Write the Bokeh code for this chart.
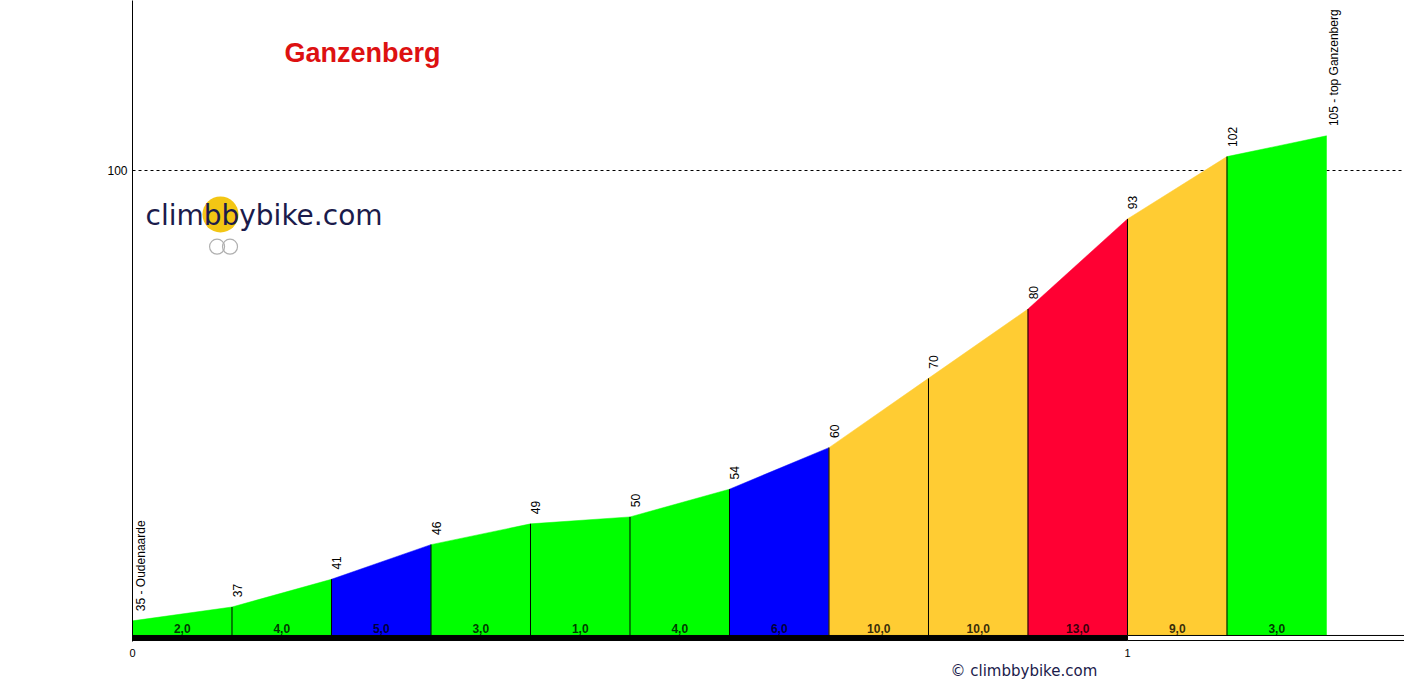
import math
from bokeh.plotting import figure
from bokeh.models import Range1d, FixedTicker, Label, Title
from bokeh.core.properties import value
from bokeh.embed import file_html
from bokeh.resources import INLINE

# ---- data ----
KM = [0.0, 0.1, 0.2, 0.3, 0.4, 0.5, 0.6, 0.7, 0.8, 0.9, 1.0, 1.1, 1.2]
ELEV = [35, 37, 41, 46, 49, 50, 54, 60, 70, 80, 93, 102, 105]
GRADIENT_LABELS = ["2,0", "4,0", "5,0", "3,0", "1,0", "4,0", "6,0",
                   "10,0", "10,0", "13,0", "9,0", "3,0"]
SEG_COLORS = ["#00FF00", "#00FF00", "#0000FF", "#00FF00", "#00FF00", "#00FF00",
              "#0000FF", "#FFCC33", "#FFCC33", "#FF0033", "#FFCC33", "#00FF00"]
START_NAME = "Oudenaarde"
END_NAME = "top Ganzenberg"
TITLE = "Ganzenberg"
X_TICKS = [0, 1]
Y_TICKS = [100]
KM_BAR_LEFT = [0, 1]
KM_BAR_RIGHT = [1, 2]
KM_BAR_COLORS = ["black", "white"]

BASE = 32.9
FONT = "Liberation Sans"

p = figure(width=1404, height=679, output_backend="svg", toolbar_location=None,
           x_range=Range1d(0, 1.2784), y_range=Range1d(32.02, 124.53),
           min_border_left=132, min_border_right=0, min_border_top=0,
           min_border_bottom=38)
p.outline_line_color = None
p.background_fill_color = "white"
p.border_fill_color = "white"

# grid: only dashed line at 100
p.xgrid.visible = False
p.ygrid.ticker = FixedTicker(ticks=Y_TICKS)
p.ygrid.grid_line_color = "black"
p.ygrid.grid_line_dash = "3 3"
p.ygrid.grid_line_width = 1

# axes
p.yaxis.ticker = FixedTicker(ticks=Y_TICKS)
p.yaxis.axis_line_color = "black"
p.yaxis.major_tick_line_color = None
p.yaxis.minor_tick_line_color = None
p.yaxis.major_tick_out = 0
p.yaxis.major_label_standoff = 5
p.yaxis.major_label_text_font = FONT
p.yaxis.major_label_text_font_size = "12px"
p.yaxis.major_label_text_color = "black"

p.xaxis.ticker = FixedTicker(ticks=X_TICKS)
p.xaxis.axis_line_color = None
p.xaxis.major_tick_line_color = None
p.xaxis.minor_tick_line_color = None
p.xaxis.major_tick_out = 0
p.xaxis.major_label_standoff = 7
p.xaxis.major_label_text_font = FONT
p.xaxis.major_label_text_font_size = "11px"
p.xaxis.major_label_text_color = "black"

# segment fills
xs, ys = [], []
for i in range(len(KM) - 1):
    xs.append([KM[i], KM[i], KM[i + 1], KM[i + 1]])
    ys.append([BASE, ELEV[i], ELEV[i + 1], BASE])
p.patches(xs, ys, fill_color=SEG_COLORS, line_color=SEG_COLORS, line_width=0.5)

# dividers
p.segment(x0=KM[1:-1], y0=[BASE] * (len(KM) - 2), x1=KM[1:-1], y1=ELEV[1:-1],
          line_color="black", line_width=1)

# km bar
p.quad(left=KM_BAR_LEFT, right=KM_BAR_RIGHT, bottom=32.16, top=32.89,
       fill_color=KM_BAR_COLORS, line_color="black", line_width=1)

# gradient labels
mid = [(KM[i] + KM[i + 1]) / 2 for i in range(len(KM) - 1)]
p.text(x=mid, y=[33.9] * len(mid), text=GRADIENT_LABELS,
       text_font=value(FONT), text_font_size="12px", text_font_style="bold",
       text_color="black", text_alpha=0.8,
       text_align="center", text_baseline="middle")

# elevation labels
elev_text = [str(e) for e in ELEV]
elev_text[0] = f"{ELEV[0]} - {START_NAME}"
elev_text[-1] = f"{ELEV[-1]} - {END_NAME}"
p.text(x=KM, y=[e + 1.4 for e in ELEV], text=elev_text, angle=math.pi / 2,
       text_font=value(FONT), text_font_size="12px", text_color="black",
       text_align="left", text_baseline="top", x_offset=1)

# logo (top-left)
p.scatter(x=[0.0884], y=[93.65], size=36, marker="circle",
          fill_color="#F3C614", line_color=None)
p.scatter(x=[0.085, 0.098], y=[89.0, 89.0], size=15, marker="circle",
          fill_color=None, line_color="#B0B0B0", line_width=1.2)
p.add_layout(Label(x=0.01307, y=93.5, text="climbbybike.com",
                   text_font="DejaVu Sans", text_font_size="28px",
                   text_color="#1B1B4B", text_baseline="alphabetic"))

# title
p.add_layout(Label(x=0.1528, y=117.0, text=TITLE, text_font=FONT,
                   text_font_size="27px", text_font_style="bold",
                   text_color="#DD1111", text_baseline="alphabetic"))

# bottom logo (outside the frame, as a below title)
p.add_layout(Title(text="\u00A9 climbbybike.com", align="left", offset=818,
                   standoff=0, text_font="DejaVu Sans", text_font_size="15px",
                   text_font_style="normal", text_color="#1B1B4B"), "below")

open("out.html", "w").write(file_html(p, INLINE))
